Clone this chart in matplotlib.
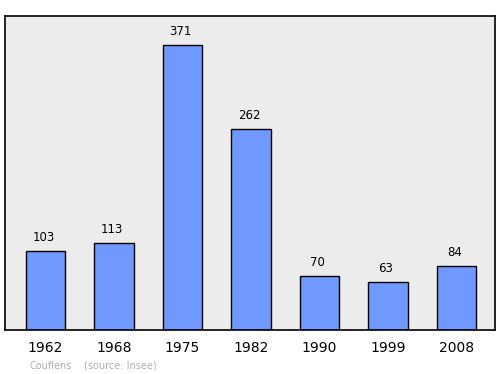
import matplotlib.pyplot as plt

years = ["1962", "1968", "1975", "1982", "1990", "1999", "2008"]
population = [103, 113, 371, 262, 70, 63, 84]

fig = plt.figure(figsize=(5, 3.74), dpi=100)
ax = fig.add_axes([0.01, 0.1176, 0.98, 0.8396])
ax.set_facecolor("#ececec")

x = range(len(years))
ax.bar(x, population, width=0.57, color="#7099ff", edgecolor="black", linewidth=1)

for xi, v in zip(x, population):
    ax.annotate(str(v), (xi - 0.03, v), xytext=(0, 5), textcoords="offset points",
                ha="center", va="bottom", fontsize=8.5)

ax.set_xlim(-0.591, 6.562)
ax.set_ylim(0, 409)
ax.set_xticks(list(x))
ax.set_xticklabels(years, fontsize=10)
ax.tick_params(axis="x", length=0, pad=8)
ax.set_yticks([])
for s in ax.spines.values():
    s.set_linewidth(1.2)

fig.text(0.06, 0.014, "Couflens", color="#b0b0b0", fontsize=7)
fig.text(0.168, 0.014, "(source: Insee)", color="#b0b0b0", fontsize=7)

fig.savefig("out.png")
